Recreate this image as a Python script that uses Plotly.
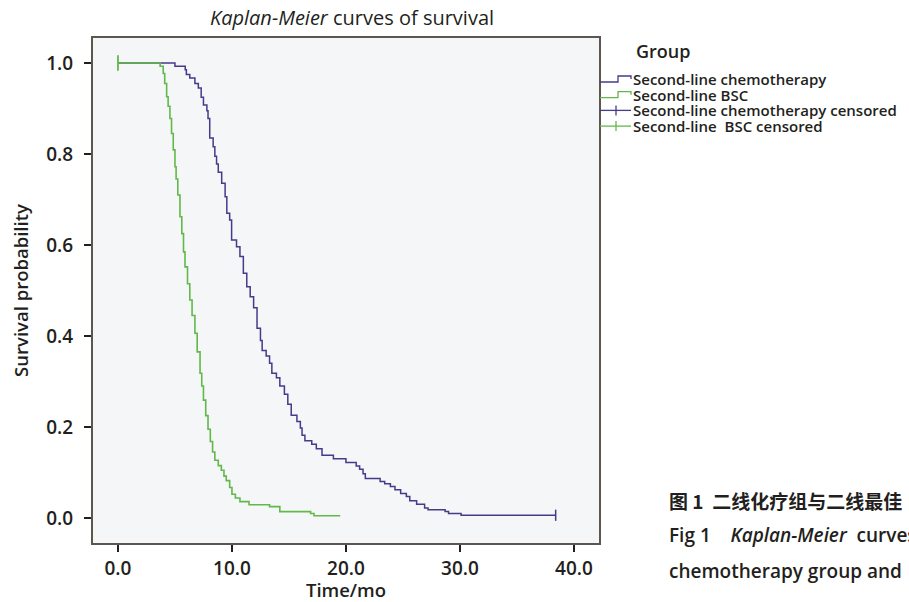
import plotly.graph_objects as go

# ---------------- data ----------------
chemo_time = [0, 5.0, 5.9, 6.0, 6.3, 6.75, 7.05, 7.3, 7.5, 7.8, 7.9, 8.05, 8.35, 8.5, 8.65, 8.8,
              9.1, 9.4, 9.55, 9.8, 9.97, 10.4, 10.7, 11.0, 11.3, 11.6, 11.9, 12.2, 12.5, 12.65,
              13.0, 13.3, 13.5, 13.9, 14.2, 14.6, 14.9, 15.2, 15.7, 16.0, 16.15, 16.4, 17.0,
              17.4, 17.9, 18.9, 20.0, 20.9, 21.2, 21.5, 21.7, 23.0, 23.4, 23.9, 24.3, 24.8,
              25.3, 25.6, 26.2, 26.9, 27.2, 28.7, 29.0, 30.1, 38.4]
chemo_surv = [1.0, 0.993, 0.985, 0.975, 0.967, 0.955, 0.945, 0.925, 0.908, 0.895, 0.878, 0.835,
              0.816, 0.795, 0.778, 0.76, 0.736, 0.706, 0.67, 0.655, 0.611, 0.596, 0.575, 0.538,
              0.508, 0.486, 0.462, 0.417, 0.39, 0.368, 0.356, 0.34, 0.318, 0.308, 0.29, 0.272,
              0.25, 0.226, 0.212, 0.198, 0.182, 0.17, 0.162, 0.152, 0.138, 0.130, 0.122, 0.114,
              0.107, 0.097, 0.087, 0.080, 0.075, 0.069, 0.062, 0.054, 0.047, 0.038, 0.030,
              0.022, 0.018, 0.014, 0.010, 0.006, 0.006]

bsc_time = [0, 3.7, 3.97, 4.1, 4.27, 4.4, 4.56, 4.7, 4.85, 5.0, 5.1, 5.25, 5.44, 5.6, 5.75, 5.88,
            6.1, 6.3, 6.5, 6.75, 6.95, 7.2, 7.35, 7.5, 7.7, 7.9, 8.1, 8.3, 8.5, 8.8, 9.07, 9.3,
            9.5, 9.8, 10.0, 10.3, 10.7, 11.5, 13.3, 14.2, 16.9, 17.2, 19.5]
bsc_surv = [1.0, 0.993, 0.977, 0.955, 0.926, 0.905, 0.878, 0.845, 0.809, 0.772, 0.745, 0.71,
            0.662, 0.625, 0.585, 0.552, 0.515, 0.479, 0.445, 0.406, 0.365, 0.318, 0.29, 0.259,
            0.225, 0.195, 0.168, 0.145, 0.127, 0.115, 0.105, 0.092, 0.082, 0.067, 0.052, 0.044,
            0.036, 0.029, 0.025, 0.014, 0.010, 0.005, 0.005]

chemo_cens_time = [38.4]
chemo_cens_surv = [0.006]
bsc_cens_time = [0]
bsc_cens_surv = [1.0]

x_ticks = [0, 10, 20, 30, 40]
y_ticks = [0.0, 0.2, 0.4, 0.6, 0.8, 1.0]

legend_title = "Group"
legend_labels = ["Second-line chemotherapy", "Second-line BSC",
                 "Second-line chemotherapy censored", "Second-line  BSC censored"]

caption_cn = "图 1  二线化疗组与二线最佳"
caption_en1 = "Fig 1&nbsp;&nbsp;&nbsp; <i>Kaplan-Meier</i>&nbsp; curves"
caption_en2 = "chemotherapy group and"

CHEMO = "#463a8a"
BSC = "#62b84a"
FRAME = "#5d5550"
TXT = "#231f20"
FONT = "Open Sans"

# ---------------- layout geometry (pixels) ----------------
W, H = 909, 602
L, R, T, B = 93, 599, 38, 543


def px(x):
    return (x - L) / (R - L)


def py(y):
    return (B - y) / (B - T)


fig = go.Figure()
fig.add_trace(go.Scatter(x=chemo_time, y=chemo_surv, mode="lines", line_shape="hv",
                         line=dict(color=CHEMO, width=1.5), name=legend_labels[0]))
fig.add_trace(go.Scatter(x=bsc_time, y=bsc_surv, mode="lines", line_shape="hv",
                         line=dict(color=BSC, width=1.6), name=legend_labels[1]))
fig.add_trace(go.Scatter(x=chemo_cens_time, y=chemo_cens_surv, mode="markers",
                         marker=dict(symbol="line-ns-open", size=8, color=CHEMO,
                                     line=dict(color=CHEMO, width=1.5)),
                         name=legend_labels[2]))
fig.add_trace(go.Scatter(x=bsc_cens_time, y=bsc_cens_surv, mode="markers",
                         marker=dict(symbol="line-ns-open", size=11, color=BSC,
                                     line=dict(color=BSC, width=1.8)),
                         name=legend_labels[3]))

# ---- compact legend (drawn as text + small symbol shapes) ----
annotations = []
shapes = []
annotations.append(dict(text=legend_title, xref="paper", yref="paper", x=px(634), y=py(51),
                        xanchor="left", yanchor="middle", showarrow=False,
                        font=dict(family=FONT, size=18, color=TXT, weight=600)))
item_y = [79, 94.7, 110.4, 126.1]
item_col = [CHEMO, BSC, CHEMO, BSC]
legend_text = "<br>".join("<span style='font-size:15px'>{}</span>".format(s) for s in legend_labels)
annotations.append(dict(text=legend_text, xref="paper", yref="paper", x=px(632),
                        y=py((item_y[0] + item_y[-1]) / 2), xanchor="left", yanchor="middle",
                        align="left", showarrow=False, borderpad=0,
                        font=dict(family=FONT, size=12, color=TXT, weight=600)))
for i in range(len(legend_labels)):
    yc = item_y[i]
    if i < 2:
        path = "M {} {} L {} {} L {} {} L {} {} L {} {}".format(
            px(600), py(yc + 3), px(618), py(yc + 3), px(618), py(yc - 3),
            px(631), py(yc - 3), px(631), py(yc))
        shapes.append(dict(type="path", path=path, xref="paper", yref="paper",
                           line=dict(color=item_col[i], width=1.3)))
    else:
        shapes.append(dict(type="line", xref="paper", yref="paper", x0=px(600), x1=px(631),
                           y0=py(yc), y1=py(yc), line=dict(color=item_col[i], width=1.3)))
        shapes.append(dict(type="line", xref="paper", yref="paper", x0=px(616), x1=px(616),
                           y0=py(yc - 5), y1=py(yc + 5), line=dict(color=item_col[i], width=1.3)))

# ---- caption (figure text at lower right) ----
annotations.append(dict(text=caption_cn, xref="paper", yref="paper",
                        x=px(667), y=py(500), xanchor="left", yanchor="middle", showarrow=False,
                        font=dict(family="Noto Sans CJK SC", size=19, color=TXT, weight=600)))
annotations.append(dict(text=caption_en1, xref="paper", yref="paper",
                        x=px(667), y=py(535), xanchor="left", yanchor="middle", showarrow=False,
                        font=dict(family=FONT, size=19, color=TXT, weight=600)))
annotations.append(dict(text=caption_en2, xref="paper", yref="paper",
                        x=px(667), y=py(571), xanchor="left", yanchor="middle", showarrow=False,
                        font=dict(family=FONT, size=19, color=TXT, weight=600)))

fig.update_layout(
    width=W, height=H,
    margin=dict(l=L, r=W - R, t=T, b=H - B, autoexpand=False),
    paper_bgcolor="white",
    plot_bgcolor="#f5f6f8",
    showlegend=False,
    title=dict(text="<i>Kaplan-Meier</i> curves of survival", x=352 / W, xanchor="center",
               y=1 - 18 / H, yanchor="middle", yref="container", xref="container",
               font=dict(family=FONT, size=20, color=TXT)),
    annotations=annotations,
    shapes=shapes,
    font=dict(family=FONT, color=TXT),
)
fig.update_xaxes(range=[-2.19, 42.2], tickvals=x_ticks, tickformat=".1f", automargin=False,
                 ticks="outside", ticklen=7, tickwidth=1.5, tickcolor=TXT,
                 showline=True, linecolor=FRAME, linewidth=2, mirror=True,
                 showgrid=False, zeroline=False, ticklabelstandoff=0,
                 tickfont=dict(family=FONT, size=19, color=TXT, weight=600),
                 title=dict(text="Time/mo", standoff=8,
                            font=dict(family=FONT, size=18.5, color=TXT, weight=600)))
fig.update_yaxes(range=[-0.055, 1.055], tickvals=y_ticks, tickformat=".1f", automargin=False,
                 ticks="outside", ticklen=7, tickwidth=1.5, tickcolor=TXT,
                 showline=True, linecolor=FRAME, linewidth=2, mirror=True,
                 showgrid=False, zeroline=False, ticklabelstandoff=7,
                 tickfont=dict(family=FONT, size=19, color=TXT, weight=600),
                 title=dict(text="Survival probability", standoff=13,
                            font=dict(family=FONT, size=18.5, color=TXT, weight=600)))

fig.write_html("out.html", config={"displayModeBar": False},
               post_script="document.body.style.margin='0px';")
